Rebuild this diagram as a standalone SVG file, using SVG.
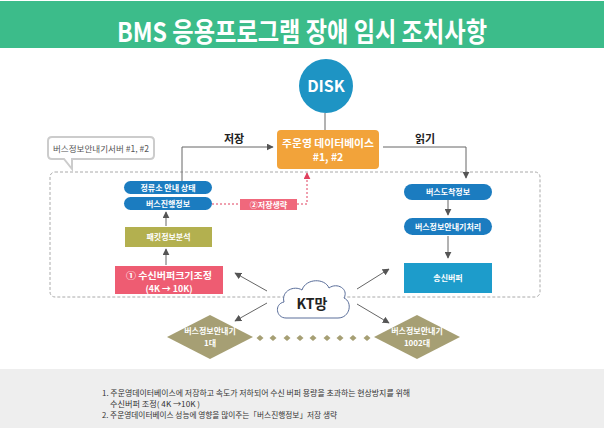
<svg xmlns="http://www.w3.org/2000/svg" width="604" height="428" viewBox="0 0 604 428">
<defs>
<style>
.t{font-family:"Noto Sans CJK KR","Noto Sans",sans-serif;}
.w{fill:#fff;font-weight:bold;text-anchor:middle;}
.k{fill:#222;font-weight:bold;text-anchor:middle;}
.ln{stroke:#666;stroke-width:1;fill:none;}
.pill{fill:#1b7cc0;}
.dia{fill:#a69f74;}
.note{fill:#333;font-size:7.5px;}
</style>
<marker id="ah" viewBox="0 0 10 10" refX="9" refY="5" markerWidth="7" markerHeight="7" orient="auto"><path d="M0,0 L10,5 L0,10 Z" fill="#555"/></marker>
<marker id="ahr" viewBox="0 0 10 10" refX="9" refY="5" markerWidth="7" markerHeight="7" orient="auto"><path d="M0,0 L10,5 L0,10 Z" fill="#e0405e"/></marker>
<path id="dot" d="M0,-3 L3.5,0 L0,3 L-3.5,0 Z" fill="#a69f74"/>
</defs>
<rect width="604" height="428" fill="#fff"/>
<g id="title">
<rect x="0" y="1" width="604" height="47" fill="#3cbc8a"/>
<text class="t w" x="302" y="42" font-size="27" textLength="370" lengthAdjust="spacingAndGlyphs">BMS 응용프로그램 장애 임시 조치사항</text>
</g>
<g id="container">
<rect x="50" y="172" width="490" height="125" rx="5" fill="none" stroke="#aaa" stroke-width="1" stroke-dasharray="3 2"/>
</g>
<g id="callout">
<path d="M52,137 H150 Q154,137 154,141 V155 Q154,159 150,159 H72 L72,169 L64,159 H52 Q48,159 48,155 V141 Q48,137 52,137 Z" fill="#fff" stroke="#ccc" stroke-width="2"/>
<text class="t" x="101" y="152" font-size="8.5" fill="#555" text-anchor="middle" textLength="96" lengthAdjust="spacingAndGlyphs">버스정보안내기서버 #1, #2</text>
</g>
<g id="connectors">
<line class="ln" x1="325" y1="113" x2="325" y2="130"/>
<path class="ln" d="M182,181 V147 H273" marker-end="url(#ah)"/>
<path class="ln" d="M383,147 H466 V178" marker-end="url(#ah)"/>
<line class="ln" x1="166" y1="226" x2="166" y2="212" marker-end="url(#ah)"/>
<line class="ln" x1="166" y1="265" x2="166" y2="249" marker-end="url(#ah)"/>
<line class="ln" x1="448" y1="200" x2="448" y2="215" marker-end="url(#ah)"/>
<line class="ln" x1="448" y1="236" x2="448" y2="258" marker-end="url(#ah)"/>
<line class="ln" x1="267" y1="291" x2="235" y2="273" marker-end="url(#ah)"/>
<line class="ln" x1="267" y1="303" x2="235" y2="321" marker-end="url(#ah)"/>
<line class="ln" x1="357" y1="289" x2="389" y2="269" marker-end="url(#ah)"/>
<line class="ln" x1="357" y1="304" x2="389" y2="323" marker-end="url(#ah)"/>
<line x1="212" y1="204" x2="240" y2="204" stroke="#e0405e" stroke-width="1" stroke-dasharray="2 2"/>
<path d="M297,204 H307 V173" fill="none" stroke="#e0405e" stroke-width="1" stroke-dasharray="2 2" marker-end="url(#ahr)"/>
<use href="#dot" x="260" y="338"/>
<use href="#dot" x="273" y="338"/>
<use href="#dot" x="287" y="338"/>
<use href="#dot" x="300" y="338"/>
<use href="#dot" x="313" y="338"/>
<use href="#dot" x="327" y="338"/>
<use href="#dot" x="340" y="338"/>
<use href="#dot" x="353" y="338"/>
<use href="#dot" x="367" y="338"/>
</g>
<g id="label-save">
<text class="t k" x="234" y="143" font-size="11">저장</text>
</g>
<g id="label-read">
<text class="t k" x="425" y="143" font-size="11">읽기</text>
</g>
<g id="disk">
<circle cx="326" cy="86" r="27" fill="#1e94c4"/>
<text class="t w" x="326" y="92" font-size="16">DISK</text>
</g>
<g id="maindb">
<rect x="277" y="130" width="102" height="39" rx="4" fill="#f2a33a"/>
<text class="t w" x="328" y="147" font-size="10.5" textLength="92" lengthAdjust="spacingAndGlyphs">주운영 데이터베이스</text>
<text class="t w" x="328" y="161" font-size="10.5">#1, #2</text>
</g>
<g id="stop-status">
<rect class="pill" x="124" y="181" width="88" height="13" rx="6.5"/>
<text class="t w" x="168" y="190.5" font-size="8">정류소 안내 상태</text>
</g>
<g id="bus-progress">
<rect class="pill" x="124" y="197" width="88" height="13" rx="6.5"/>
<text class="t w" x="168" y="206.5" font-size="8">버스진행정보</text>
</g>
<g id="skip-save">
<rect x="240" y="199" width="57" height="11" fill="#f0687c"/>
<text class="t w" x="268.5" y="207.5" font-size="8">②저장생략</text>
</g>
<g id="packet">
<rect x="125" y="227" width="87" height="20" fill="#b3b04f"/>
<text class="t w" x="168.5" y="240" font-size="8">패킷정보분석</text>
</g>
<g id="buffer-adjust">
<rect x="115" y="266" width="108" height="28" fill="#ee5c72"/>
<text class="t w" x="169" y="279" font-size="8.8" textLength="86" lengthAdjust="spacingAndGlyphs">① 수신버퍼크기조정</text>
<text class="t w" x="169" y="292" font-size="8.8">(4K → 10K)</text>
</g>
<g id="arrival">
<rect class="pill" x="404" y="184" width="88" height="16" rx="8"/>
<text class="t w" x="448" y="195" font-size="8">버스도착정보</text>
</g>
<g id="display-proc">
<rect class="pill" x="404" y="218" width="88" height="17" rx="8.5"/>
<text class="t w" x="448" y="229.5" font-size="8">버스정보안내기처리</text>
</g>
<g id="send-buffer">
<rect x="404" y="263" width="88" height="30" fill="#1d9ccb"/>
<text class="t w" x="448" y="281" font-size="8">송신버퍼</text>
</g>
<g id="kt">
<path d="M286,318 C276,318 274,304 284,302 C281,291 294,285 302,290 C306,278 325,278 329,288 C337,282 349,289 344,298 C353,302 350,318 338,318 Z" fill="#fff" stroke="#5a6e9a" stroke-width="1"/>
<text class="t k" x="312" y="309" font-size="14">KT망</text>
</g>
<g id="terminal-1">
<polygon class="dia" points="210,315 253,337 210,359 167,337"/>
<text class="t w" x="210" y="334" font-size="8" font-weight="normal">버스정보안내기</text>
<text class="t w" x="210" y="346" font-size="8" font-weight="normal">1대</text>
</g>
<g id="terminal-1002">
<polygon class="dia" points="417,315 460,337 417,359 374,337"/>
<text class="t w" x="417" y="334" font-size="8" font-weight="normal">버스정보안내기</text>
<text class="t w" x="417" y="346" font-size="8" font-weight="normal">1002대</text>
</g>
<g id="notes">
<rect x="0" y="369" width="604" height="59" fill="#eeeeee"/>
<text class="t note" x="102" y="396" textLength="308" lengthAdjust="spacingAndGlyphs">1. 주운영데이터베이스에 저장하고 속도가 저하되어 수신 버퍼 용량을 초과하는 현상방지를 위해</text>
<text class="t note" x="110" y="407" textLength="90" lengthAdjust="spacingAndGlyphs">수신버퍼 조정( 4K →10K )</text>
<text class="t note" x="102" y="418" textLength="235" lengthAdjust="spacingAndGlyphs">2. 주운영데이터베이스 성능에 영향을 많이주는「버스진행정보」저장 생략</text>
</g>
</svg>
